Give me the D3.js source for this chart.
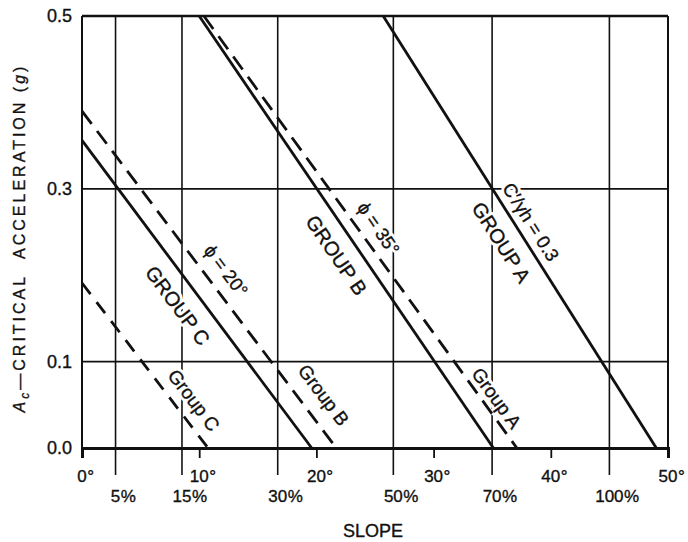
<!DOCTYPE html>
<html><head><meta charset="utf-8">
<script src="https://cdn.jsdelivr.net/npm/d3@7"></script>
<style>
body{margin:0;background:#fff}
svg{display:block}
text{font-family:"Liberation Sans",Arial,Helvetica,sans-serif;fill:#111}
</style>
</head><body>
<svg id="chart" width="688" height="542"></svg>
<script>
// ---- data ----
const degreeTicks = [0, 10, 20, 30, 40, 50];
const percentTicks = [5, 15, 30, 50, 70, 100];
const yTicks = [0.0, 0.1, 0.3, 0.5];
const yGridValues = [0.1, 0.3];
// each series: [slope in degrees, critical acceleration in g]
const groupASolid  = [[25.7, 0.5], [49.0, 0.0]];   // c'/γh = 0.3
const groupBSolid  = [[10.0, 0.5], [35.1, 0.0]];   // φ = 35°
const groupCSolid  = [[0.0, 0.356], [19.6, 0.0]];  // φ = 20°
const groupADashed = [[10.4, 0.5], [37.1, 0.0]];
const groupBDashed = [[0.0, 0.39], [21.7, 0.0]];
const groupCDashed = [[0.0, 0.191], [10.75, 0.0]];

// ---- layout ----
const x = d3.scaleLinear().domain([0, 50]).range([82, 668]);
const y = d3.scaleLinear().domain([0, 0.5]).range([448, 16]);
const pctToDeg = p => Math.atan(p / 100) * 180 / Math.PI;

const svg = d3.select("#chart");
const ink = "#111";
const thicken = sel => sel.attr("stroke", ink).attr("stroke-width", 0.35);

const gGrid = svg.append("g");
gGrid.selectAll("line.pct").data(percentTicks).join("line")
  .attr("x1", d => x(pctToDeg(d))).attr("x2", d => x(pctToDeg(d)))
  .attr("y1", y(0.5)).attr("y2", y(0) + 27)
  .attr("stroke", ink).attr("stroke-width", 1.6);
gGrid.selectAll("line.hg").data(yGridValues).join("line")
  .attr("x1", x(0)).attr("x2", x(50))
  .attr("y1", d => y(d)).attr("y2", d => y(d))
  .attr("stroke", ink).attr("stroke-width", 1.8);
gGrid.append("line").attr("x1", x(0)).attr("x2", x(50)).attr("y1", y(0.5)).attr("y2", y(0.5))
  .attr("stroke", ink).attr("stroke-width", 2.6);
gGrid.append("line").attr("x1", x(0)).attr("x2", x(0)).attr("y1", y(0.5)).attr("y2", y(0) + 7)
  .attr("stroke", ink).attr("stroke-width", 2);
gGrid.append("line").attr("x1", x(50)).attr("x2", x(50)).attr("y1", y(0.5)).attr("y2", y(0))
  .attr("stroke", ink).attr("stroke-width", 2);

const xAxis = d3.axisBottom(x).tickValues(degreeTicks).tickSize(10).tickFormat("");
const gx = svg.append("g").attr("transform", `translate(0,${y(0)})`).call(xAxis);
gx.select(".domain").attr("stroke", ink).attr("stroke-width", 3);
gx.selectAll(".tick line").attr("stroke", ink).attr("stroke-width", 1.8);

function suffixLabel(xpos, ypos, num, suffix, size) {
  const t = svg.append("text").attr("x", xpos).attr("y", ypos)
    .attr("text-anchor", "middle").attr("font-size", size).text(num).call(thicken);
  const w = t.node().getComputedTextLength();
  svg.append("text").attr("x", xpos + w / 2 + 0.5).attr("y", ypos)
    .attr("font-size", size).text(suffix).call(thicken);
}
degreeTicks.forEach(d => suffixLabel(x(d), 482, d, "°", 17));
percentTicks.forEach(p => suffixLabel(x(pctToDeg(p)), 501.5, p, "%", 17));

svg.append("g").selectAll("text").data(yTicks).join("text")
  .attr("x", 72).attr("y", d => y(d)).attr("dy", "0.36em")
  .attr("text-anchor", "end").attr("font-size", 18)
  .text(d => d.toFixed(1)).call(thicken);

svg.append("text").attr("x", 373).attr("y", 537).attr("text-anchor", "middle")
  .attr("font-size", 18).text("SLOPE").call(thicken);
const yl = svg.append("text").attr("transform", "translate(25,238) rotate(-90)")
  .attr("text-anchor", "middle").attr("font-size", 16).attr("letter-spacing", 3).call(thicken);
yl.append("tspan").attr("font-style", "italic").text("A");
yl.append("tspan").attr("font-style", "italic").attr("font-size", 12).attr("dy", 4).text("c");
yl.append("tspan").attr("dy", -4).text("\u2014CRITICAL\u00a0\u00a0ACCELERATION (");
yl.append("tspan").attr("font-style", "italic").text("g");
yl.append("tspan").text(")");

// line labels: fraction along the line and perpendicular offset (px, + = upper-right side)
const lineLabels = [
  { line: groupASolid,  text: "C\u2032/\u03b3h = 0.3", at: 0.495, offset: 15, size: 18.5 },
  { line: groupASolid,  text: "GROUP A", at: 0.498, offset: -21, size: 20 },
  { line: groupBSolid,  text: "GROUP B", at: 0.526, offset: -21, size: 20 },
  { line: groupBSolid,  text: "\u03d5 = 35\u00b0", at: 0.529, offset: 29, size: 18.5 },
  { line: groupCSolid,  text: "GROUP C", at: 0.494, offset: -22, size: 20 },
  { line: groupBDashed, text: "\u03d5 = 20\u00b0", at: 0.507, offset: 19, size: 18.5 },
  { line: groupCDashed, text: "Group C", at: 0.776, offset: 18, size: 19 },
  { line: groupBDashed, text: "Group B", at: 0.882, offset: 22, size: 19 },
  { line: groupADashed, text: "Group A", at: 0.902, offset: 13, size: 19 }
];
const gLab = svg.append("g");
lineLabels.forEach(l => {
  const x1 = x(l.line[0][0]), y1 = y(l.line[0][1]);
  const x2 = x(l.line[1][0]), y2 = y(l.line[1][1]);
  const len = Math.hypot(x2 - x1, y2 - y1);
  const ux = (x2 - x1) / len, uy = (y2 - y1) / len;
  const cx = x1 + ux * len * l.at + uy * l.offset;
  const cy = y1 + uy * len * l.at - ux * l.offset;
  const ang = Math.atan2(uy, ux) * 180 / Math.PI;
  const g = gLab.append("g").attr("transform", `translate(${cx},${cy}) rotate(${ang})`);
  g.append("text").attr("text-anchor", "middle").attr("dy", "0.36em")
    .attr("font-size", l.size)
    .attr("stroke", "#fff").attr("stroke-width", 6).attr("stroke-linejoin", "round")
    .text(l.text);
  g.append("text").attr("text-anchor", "middle").attr("dy", "0.36em")
    .attr("font-size", l.size).text(l.text).call(thicken);
});

const lineGen = d3.line().x(d => x(d[0])).y(d => y(d[1]));
const series = [
  { data: groupASolid, dash: null },
  { data: groupBSolid, dash: null },
  { data: groupCSolid, dash: null },
  { data: groupADashed, dash: "16,9" },
  { data: groupBDashed, dash: "16,9" },
  { data: groupCDashed, dash: "14,10" }
];
svg.append("g").selectAll("path").data(series).join("path")
  .attr("d", d => lineGen(d.data))
  .attr("fill", "none").attr("stroke", ink).attr("stroke-width", 2.8)
  .attr("stroke-dasharray", d => d.dash);
</script>
</body></html>
